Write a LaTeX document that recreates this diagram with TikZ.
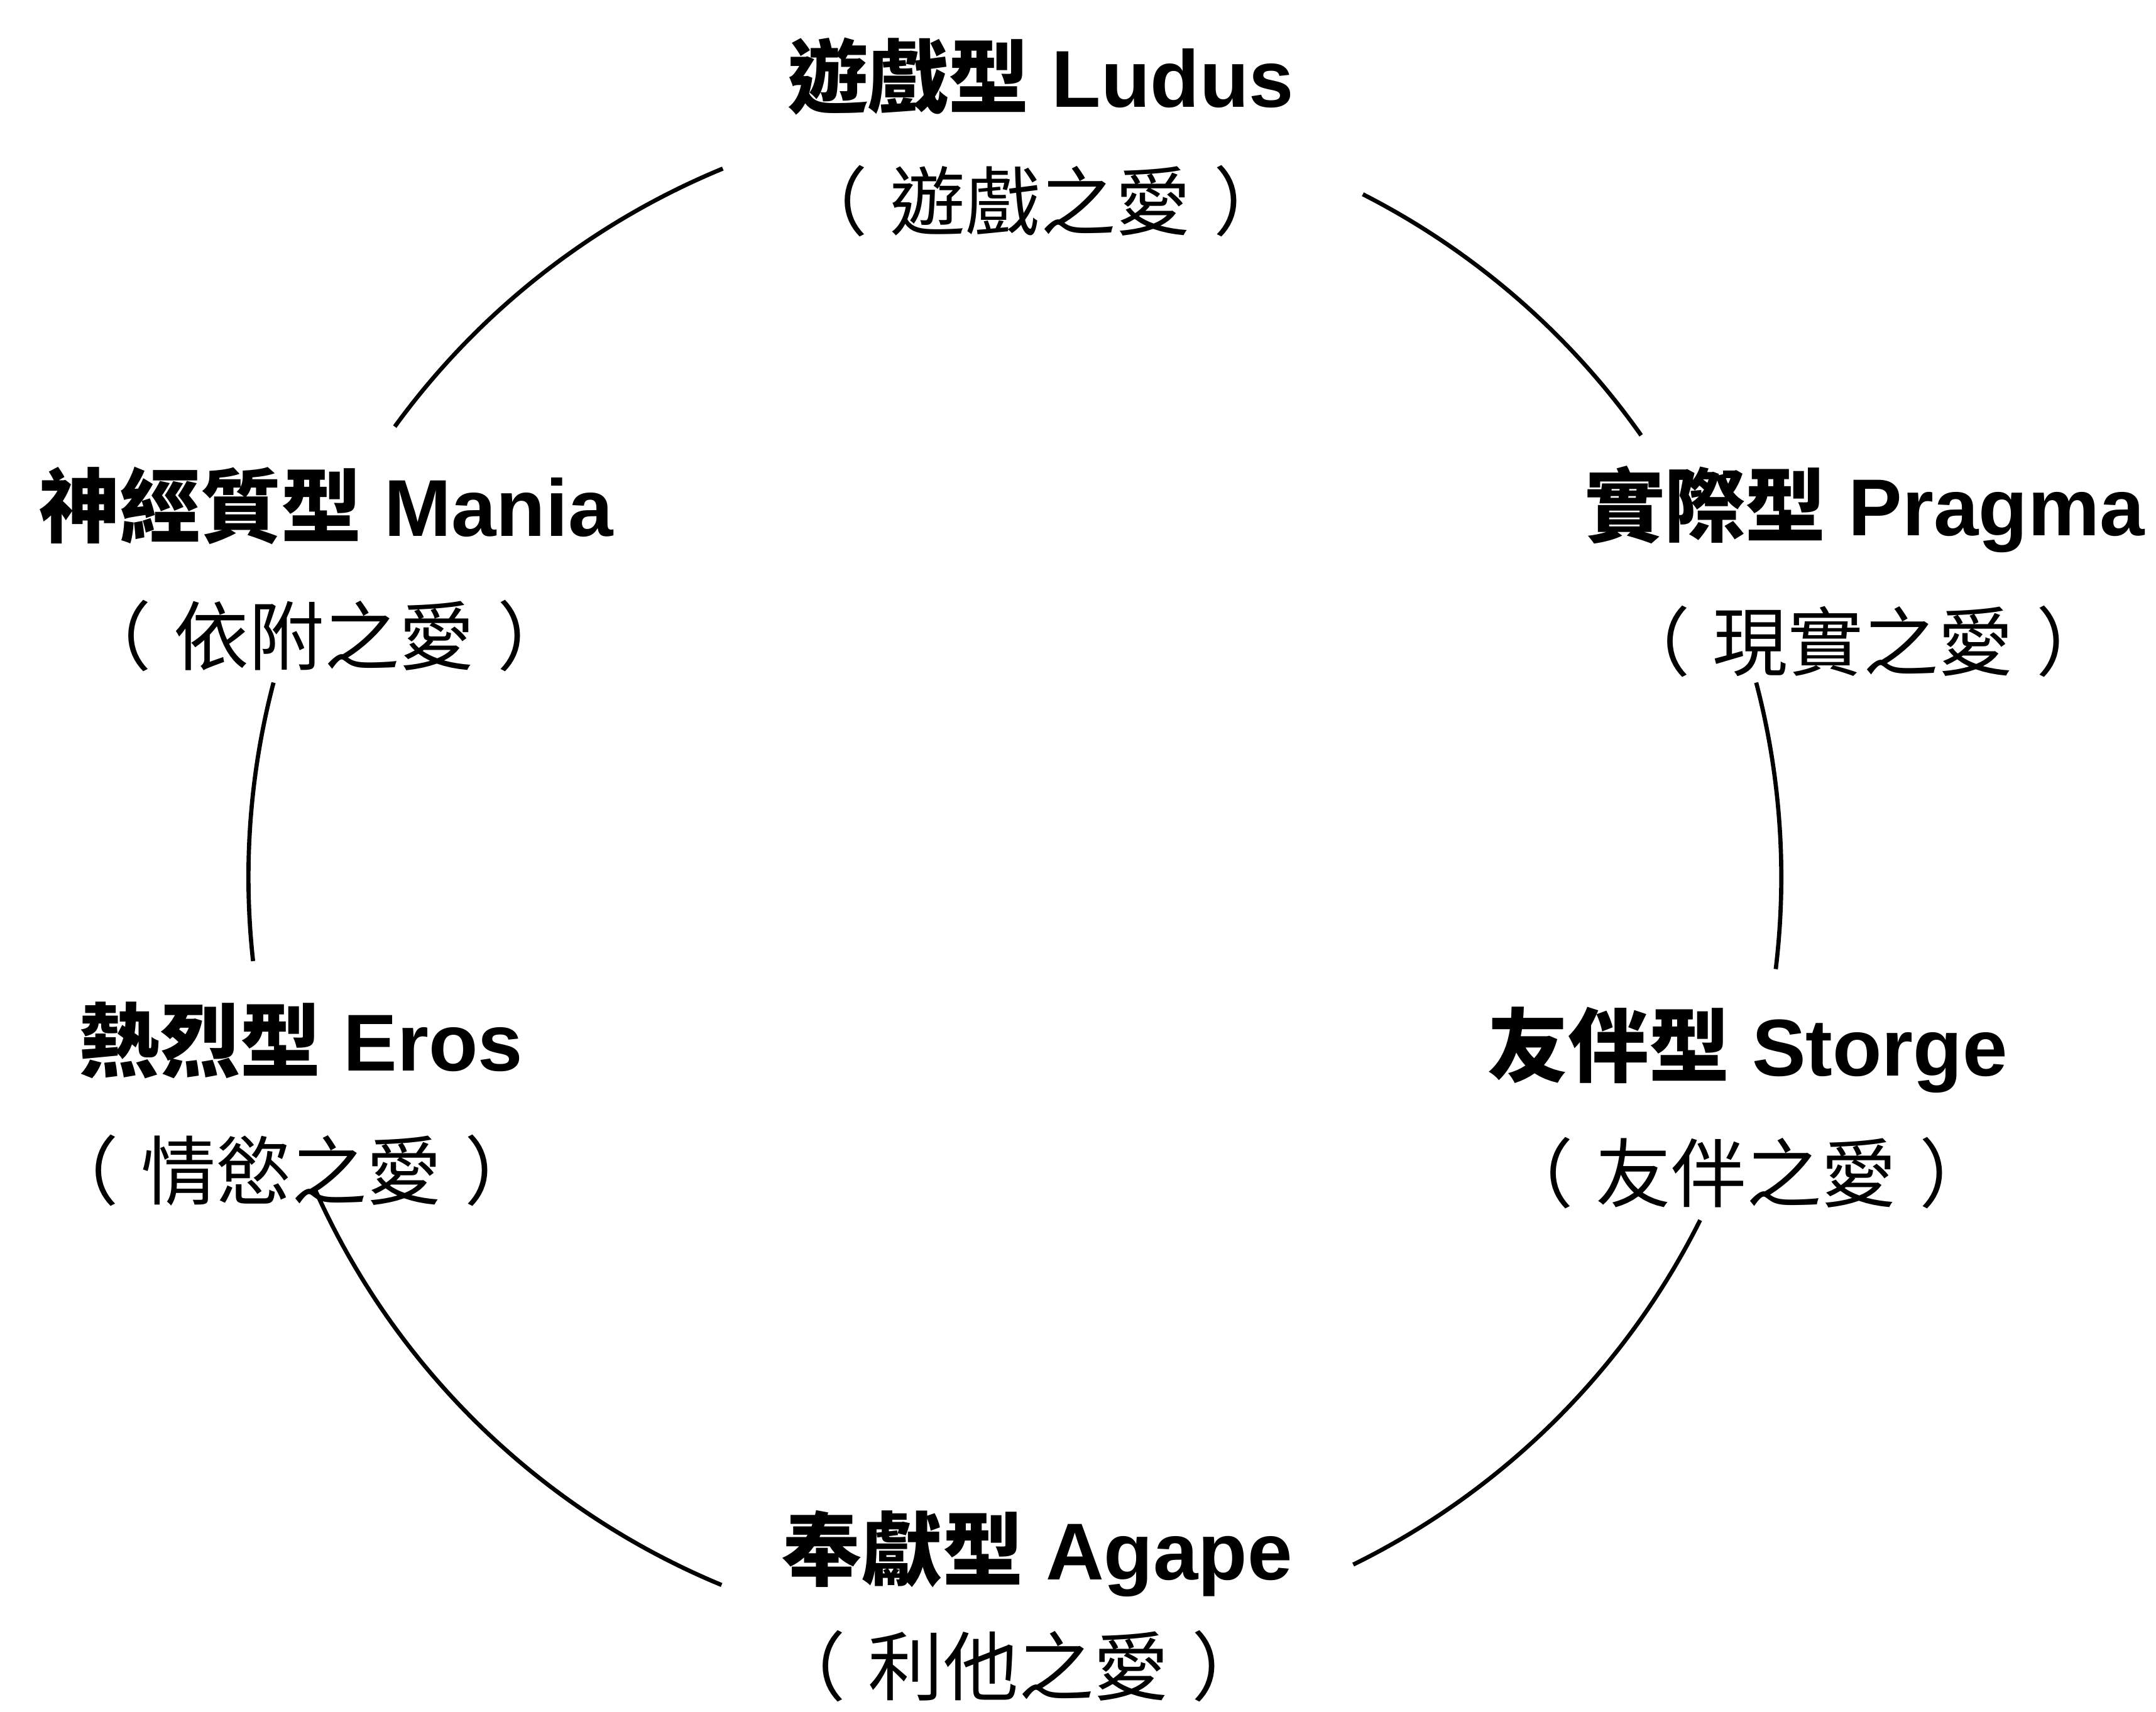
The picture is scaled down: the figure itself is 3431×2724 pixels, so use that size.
\documentclass[tikz,border=0pt]{standalone}
\usepackage{fontspec}
\setmainfont{Liberation Sans}
\newfontfamily\cjk{Noto Sans CJK TC}
\newcommand{\subtxt}[1]{（\hspace{0.3em}#1\hspace{0.3em}）}
\begin{document}
\begin{tikzpicture}[x=0.01cm,y=0.01cm,
  title/.style={font=\fontsize{36.5}{40}\selectfont\bfseries, anchor=base, inner sep=0pt},
  subt/.style={font=\fontsize{34}{38}\selectfont\cjk, anchor=base, inner sep=0pt},
  ring/.style={line width=1.9pt, black}]
\path[fill=white,use as bounding box] (0,0) rectangle (3431,2724);
% labels (y measured from bottom)
\node[title] (ludus)  at (1656,2553) {{\cjk 遊戲型} Ludus};
\node[subt]  (ludusS) at (1656,2358) {\subtxt{遊戲之愛}};
\node[title] (mania)  at (519,1870) {{\cjk 神經質型} Mania};
\node[subt]  (maniaS) at (516,1666) {\subtxt{依附之愛}};
\node[title] (pragma) at (2967,1871) {{\cjk 實際型} Pragma};
\node[subt]  (pragmaS) at (2965,1657) {\subtxt{現實之愛}};
\node[title] (eros)   at (479,1019) {{\cjk 熱烈型} Eros};
\node[subt]  (erosS)  at (464,815) {\subtxt{情慾之愛}};
\node[title] (storge) at (2781,1011) {{\cjk 友伴型} Storge};
\node[subt]  (storgeS) at (2779,811) {\subtxt{友伴之愛}};
\node[title] (agape)  at (1650,210) {{\cjk 奉獻型} Agape};
\node[subt]  (agapeS) at (1621,27) {\subtxt{利他之愛}};
% ring
\coordinate (c) at (1615,1328);
\path (c) ++(144:12.19cm) coordinate (m2l);
\path (c) ++(63:12.19cm) coordinate (l2p);
\path (c) ++(14.7:12.19cm) coordinate (p2s);
\path (c) ++(-26.6:12.19cm) coordinate (s2a);
\path (c) ++(-112.5:12.19cm) coordinate (a2e);
\path (c) ++(165.3:12.19cm) coordinate (m2e);
\draw[ring] (m2l) arc[start angle=144, end angle=112.4, radius=12.19cm];
\draw[ring] (l2p) arc[start angle=63, end angle=35.2, radius=12.19cm];
\draw[ring] (p2s) arc[start angle=14.7, end angle=-6.9, radius=12.19cm];
\draw[ring] (s2a) arc[start angle=-26.6, end angle=-63.8, radius=12.19cm];
\draw[ring] (a2e) arc[start angle=-112.5, end angle=-156.1, radius=12.19cm];
\draw[ring] (m2e) arc[start angle=165.3, end angle=186.3, radius=12.19cm];
\end{tikzpicture}
\end{document}
